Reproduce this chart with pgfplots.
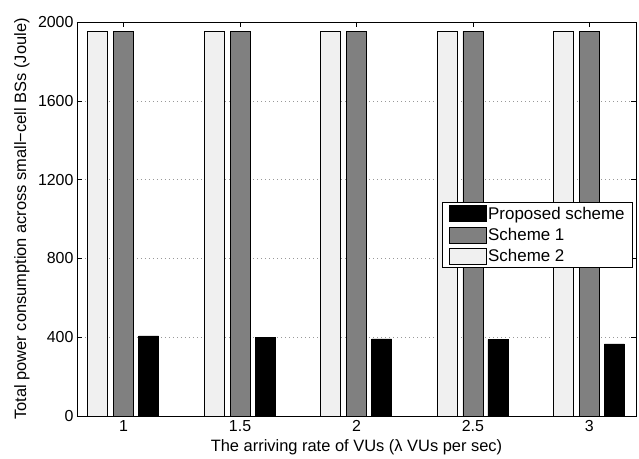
\documentclass[border=0pt]{standalone}
\usepackage{pgfplots}
\pgfplotsset{compat=1.18}
\usepackage{fontspec}
\setmainfont{Liberation Sans}
\definecolor{sgray}{RGB}{128,128,128}
\definecolor{slight}{RGB}{240,240,240}
\pgfplotsset{mylegend/.style={legend image code/.code={\draw[##1,line width=0.6bp] (0bp,-8bp) rectangle (37bp,8bp);}}}
\begin{document}
\begin{tikzpicture}
\begin{axis}[
  scale only axis,
  width=559bp, height=394bp,
  xmin=0.8, xmax=3.2,
  ymin=0, ymax=2000,
  ybar,
  bar width=20bp,
  xtick={1,1.5,2,2.5,3},
  xticklabels={1,1.5,2,2.5,3},
  ytick={0,400,800,1200,1600,2000},
  tick align=inside,
  major tick length=5bp,
  tick style={black, line width=0.6bp},
  axis line style={line width=0.6bp},
  ymajorgrids,
  grid style={gray!80, line width=0.6bp, dash pattern=on 1bp off 3bp},
  /pgf/number format/assume math mode=true,
  /pgf/number format/1000 sep={},
  tick label style={font=\fontsize{16}{19}\selectfont},
  xticklabel style={yshift=-1bp},
  yticklabel style={xshift=0bp},
  label style={font=\fontsize{16.5}{19}\selectfont},
  xlabel={The arriving rate of VUs (λ VUs per sec)},
  ylabel={Total power consumption across small\symbol{"2212}cell BSs (Joule)},
  xlabel style={at={(axis description cs:0.5,-0.079)}, anchor=center},
  ylabel style={at={(axis description cs:-0.0984,0.5)}, anchor=center},
  legend style={at={(rel axis cs:0.9946,0.543)}, anchor=north east, draw=black, line width=0.6bp,
    font=\fontsize{17}{20}\selectfont, inner xsep=6bp, inner ysep=2.5bp, row sep=3.5bp, cells={anchor=west}},
]
\addplot[fill=black, draw=black, line width=0.6bp, bar shift=25bp, mylegend] coordinates {(1,407) (1.5,397) (2,391) (2.5,388) (3,366)};
\addlegendentry{Proposed scheme}
\addplot[fill=sgray, draw=black, line width=0.6bp, bar shift=0bp, mylegend] coordinates {(1,1952) (1.5,1952) (2,1952) (2.5,1952) (3,1952)};
\addlegendentry{Scheme 1}
\addplot[fill=slight, draw=black, line width=0.6bp, bar shift=-26bp, mylegend] coordinates {(1,1952) (1.5,1952) (2,1952) (2.5,1952) (3,1952)};
\addlegendentry{Scheme 2}
\end{axis}
\path (current axis.south west) ++(-77bp,-41bp) rectangle ++(639bp,457bp);
\end{tikzpicture}
\end{document}
